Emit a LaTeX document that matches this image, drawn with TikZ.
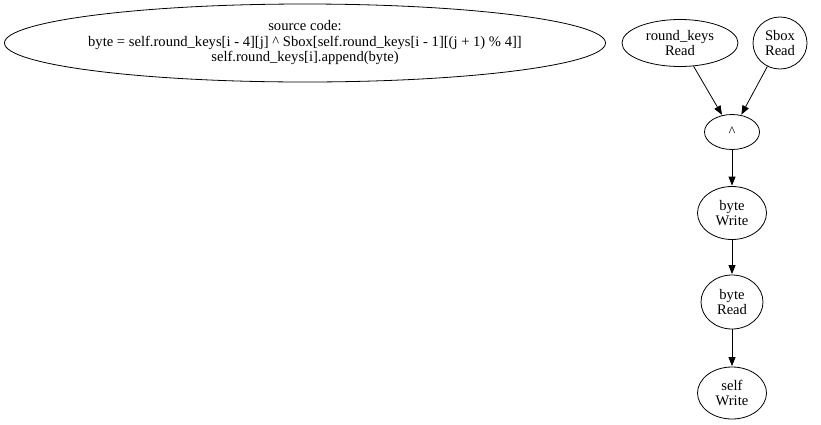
\documentclass[tikz,border=0pt]{standalone}
\usepackage{fontspec}
\setmainfont{Liberation Serif}
\usetikzlibrary{shapes.geometric,arrows.meta}
\begin{document}
\begin{tikzpicture}[x=1pt,y=-1pt,
  gnode/.style={draw,ellipse,inner sep=0pt,line width=0.8pt,align=center,
    font=\fontsize{14.6}{15.5}\selectfont},
  srcnode/.style={inner sep=0pt,align=center,font=\fontsize{14.6}{15.5}\selectfont},
  edge/.style={-{Triangle[length=9pt,width=7pt]},line width=0.8pt,shorten >=0.5pt}]
\useasboundingbox (0,0) rectangle (821,424);
\node[srcnode] (src) at (305,43)
  {source code:\\byte = self.round\_keys[i - 4][j] \^{} Sbox[self.round\_keys[i - 1][(j + 1) \% 4]]\\self.round\_keys[i].append(byte)};
\draw[line width=0.8pt] (src.center) ellipse [x radius=300.5pt, y radius=39pt];
\node[gnode,minimum width=116pt,minimum height=47pt] (rk) at (680,43) {round\_keys\\Read};
\node[gnode,minimum width=54pt,minimum height=52pt] (sb) at (780,43) {Sbox\\Read};
\node[gnode,minimum width=55pt,minimum height=35pt] (xor) at (732,132) {\^{}};
\node[gnode,minimum width=69pt,minimum height=53pt] (bw) at (732,213) {byte\\Write};
\node[gnode,minimum width=62pt,minimum height=54pt] (br) at (732,302) {byte\\Read};
\node[gnode,minimum width=69pt,minimum height=52pt] (sw) at (732,393) {self\\Write};
\draw[edge] (rk) -- (xor);
\draw[edge] (sb) -- (xor);
\draw[edge] (xor) -- (bw);
\draw[edge] (bw) -- (br);
\draw[edge] (br) -- (sw);
\end{tikzpicture}
\end{document}
